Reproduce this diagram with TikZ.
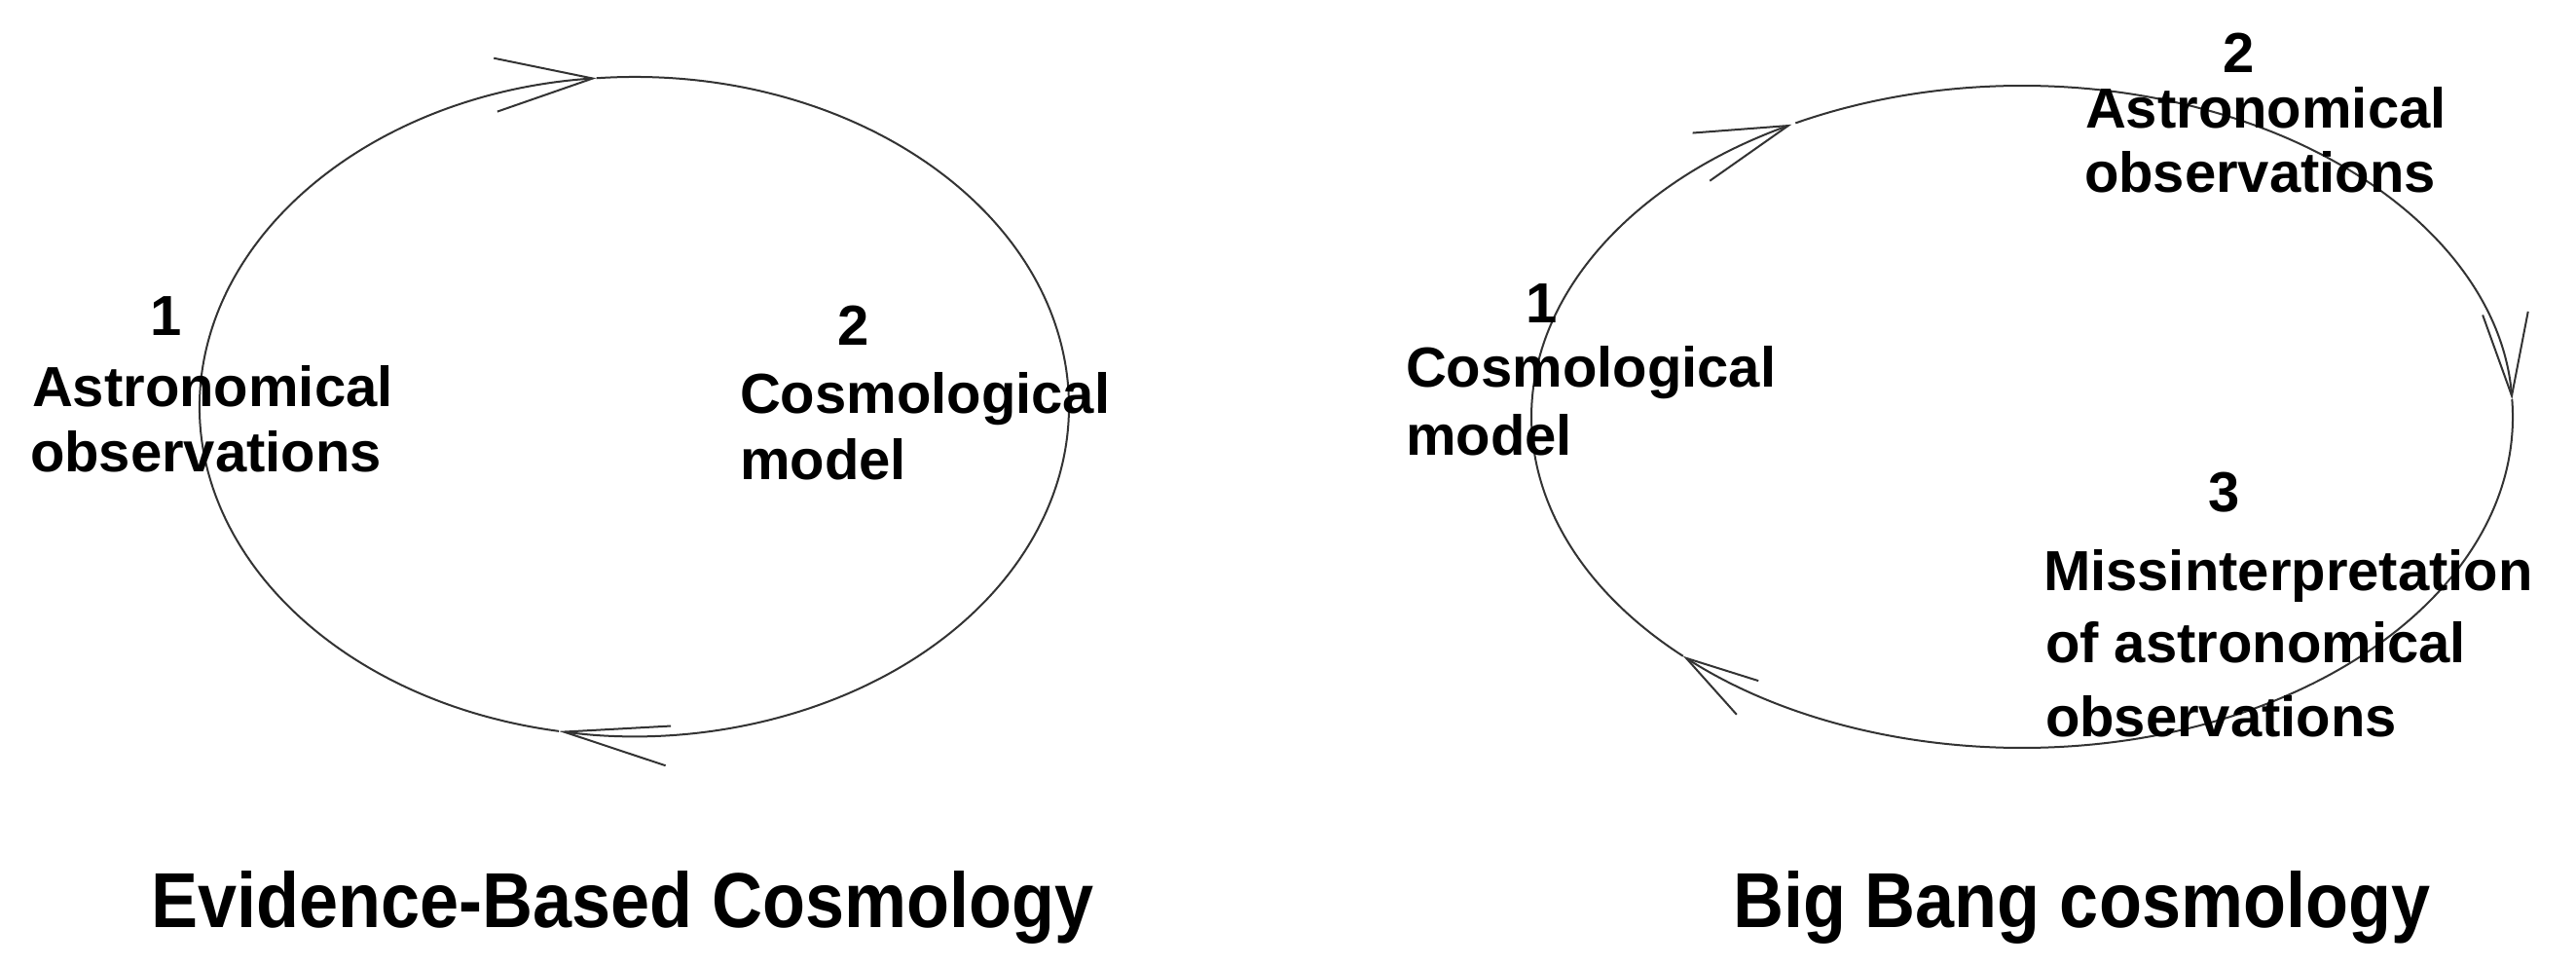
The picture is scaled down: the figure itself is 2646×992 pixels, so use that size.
\documentclass[tikz,border=0pt]{standalone}
\usepackage{fontspec}
\setmainfont{Liberation Sans}
\usetikzlibrary{arrows.meta,calc}
\begin{document}
\begin{tikzpicture}[x=1pt,y=1pt,
  cyc/.style={line width=2pt, draw=black!80},
  arr/.style={-{Straight Barb[length=#1pt,width=#1*0.55pt,line width=2pt]}},
  arrn/.style={-{Straight Barb[length=#1pt,width=#1*0.38pt,line width=2pt]}},
  lbl/.style={inner sep=0pt, outer sep=0pt, anchor=base west, font=\fontsize{58}{67}\selectfont\bfseries},
  num/.style={inner sep=0pt, outer sep=0pt, anchor=base, font=\fontsize{58}{67}\selectfont\bfseries},
  ttl/.style={inner sep=0pt, outer sep=0pt, anchor=base west, font=\fontsize{80}{90}\selectfont\bfseries}]
\useasboundingbox (0,0) rectangle (2646,992);
\fill[white] (0,0) rectangle (2646,992);
% centres
\coordinate (L) at (651.5,574.5);
\coordinate (R) at (2077,564);
% left cycle (clockwise)
\draw[cyc, arrn=108] ($(L)+(95:446.5pt and 338.5pt)$) arc[start angle=95, end angle=-100, x radius=446.5pt, y radius=338.5pt];
\draw[cyc, arr=100] ($(L)+(-100:446.5pt and 338.5pt)$) arc[start angle=-100, end angle=-265, x radius=446.5pt, y radius=338.5pt];
% right cycle (clockwise)
\draw[cyc, arr=85] ($(R)+(117.5:504pt and 340pt)$) arc[start angle=117.5, end angle=3, x radius=504pt, y radius=340pt];
\draw[cyc, arr=75] ($(R)+(3:504pt and 340pt)$) arc[start angle=3, end angle=-133.7, x radius=504pt, y radius=340pt];
\draw[cyc, arr=95] ($(R)+(-133.7:504pt and 340pt)$) arc[start angle=-133.7, end angle=-242, x radius=504pt, y radius=340pt];
% left labels
\node[num] (ln1) at (171,647) {1};
\node[lbl] (la1) at (33,574) {Astronomical};
\node[lbl] (la2) at (31,507) {observations};
\node[num] (ln2) at (877,637) {2};
\node[lbl] (lb1) at (760,567) {Cosmological};
\node[lbl] (lb2) at (760,499) {model};
% right labels
\node[num] (rn1) at (1584,660) {1};
\node[lbl] (ra1) at (1444,594) {Cosmological};
\node[lbl] (ra2) at (1444,524) {model};
\node[num] (rn2) at (2300,917) {2};
\node[lbl] (rb1) at (2142,860) {Astronomical};
\node[lbl] (rb2) at (2141,794) {observations};
\node[num] (rn3) at (2285,466) {3};
\node[lbl] (rc1) at (2099,385) {Missinterpretation};
\node[lbl] (rc2) at (2101,311) {of astronomical};
\node[lbl] (rc3) at (2101,235) {observations};
% titles
\node[ttl] (t1) at (155,39) {\scalebox{0.9}[1]{Evidence-Based Cosmology}};
\node[ttl] (t2) at (1780,39) {\scalebox{0.9}[1]{Big Bang cosmology}};
\end{tikzpicture}
\end{document}
